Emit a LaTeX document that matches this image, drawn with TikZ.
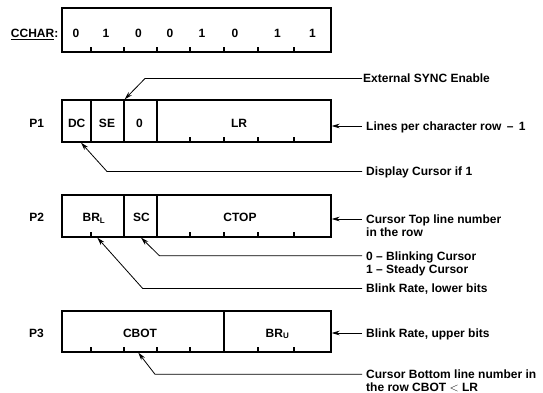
\documentclass[tikz,border=0pt]{standalone}
\usepackage{fontspec}
\setmainfont{Liberation Sans}
\usetikzlibrary{arrows.meta}
\begin{document}
\begin{tikzpicture}[x=1pt,y=-1pt,
  every node/.style={font=\fontsize{12}{13}\selectfont\bfseries},
  field/.style={draw, line width=1.3pt, inner sep=0pt, minimum height=42pt},
  lbl/.style={inner sep=0pt, text height=8.6pt, text depth=0pt},
  tickmark/.style={line width=1.1pt},
  conn/.style={line width=0.8pt, -{Stealth[length=8pt,width=4.6pt]}},
  desc/.style={anchor=west, inner xsep=4pt, inner ysep=0pt, text height=8.6pt, text depth=0pt},
  desctwo/.style={anchor=north west, inner xsep=4pt, inner ysep=0pt, align=left},
]
\path[use as bounding box, fill=white] (0,0) rectangle (543,393);

% ---------- CCHAR ----------
\node[lbl, anchor=east] (cclbl) at (58.5,33) {\underline{CCHAR}:};
\node[field, minimum width=269pt, minimum height=44pt] (cchar) at (196.5,30) {};
\foreach \x in {91,124,157,190,224,258,294}
  \draw[tickmark] (\x,52) -- (\x,47);
\foreach \x/\d [count=\i] in {76/0,106/1,138.5/0,170/0,202/1,235/0,277.5/1,312.5/1}
  \node[lbl] (b\i) at (\x,33) {\d};

% ---------- P1 ----------
\node[lbl] (p1) at (36.7,123) {P1};
\node[field, minimum width=29pt]  (dc) at (76.5,121) {};
\node[field, minimum width=33pt]  (se) at (107.5,121) {};
\node[field, minimum width=33pt]  (zr) at (140.5,121) {};
\node[field, minimum width=174pt] (lr) at (244,121) {};
\node[lbl] (dct) at (76.7,123) {DC};
\node[lbl] (set) at (107,123) {SE};
\node[lbl] (zrt) at (139.5,123) {0};
\node[lbl] (lrt) at (239,123) {LR};
\foreach \x in {190,224,258,294}
  \draw[tickmark] (\x,142) -- (\x,137);

% ---------- P2 ----------
\node[lbl] (p2) at (36.7,217.3) {P2};
\node[field, minimum width=62pt]  (brl) at (93,216) {};
\node[field, minimum width=33pt]  (sc) at (140.5,216) {};
\node[field, minimum width=174pt] (ctop) at (244,216) {};
\node[lbl] (brlt) at (94,217.3) {BR\textsubscript{L}};
\node[lbl] (sct) at (141.5,217.3) {SC};
\node[lbl] (ctopt) at (240,217.3) {CTOP};
\foreach \x in {91,190,224,258,294}
  \draw[tickmark] (\x,237) -- (\x,232);

% ---------- P3 ----------
\node[lbl] (p3) at (36.5,332.7) {P3};
\node[field, minimum width=162pt, minimum height=41pt] (cbot) at (143,331.5) {};
\node[field, minimum width=107pt, minimum height=41pt] (bru) at (277.5,331.5) {};
\node[lbl] (cbott) at (140,332.7) {CBOT};
\node[lbl] (brut) at (277.5,332.7) {BR\textsubscript{U}};
\foreach \x in {91,124,157,190,258,294}
  \draw[tickmark] (\x,352) -- (\x,347);

% ---------- descriptions ----------
\node[desc, inner xsep=1pt] (ext) at (362,78.5) {External SYNC Enable};
\node[desc] (lpr) at (362,126) {Lines per character row \,–\, 1};
\node[desc] (dcu) at (362,171.5) {Display Cursor if 1};
\node[desctwo] (ctd) at (362,214.7) {Cursor Top line number\\in the row};
\node[desctwo] (scd) at (362,251.5) {0 – Blinking Cursor\\1 – Steady Cursor};
\node[desc] (brld) at (362,288.5) {Blink Rate, lower bits};
\node[desc] (brud) at (362,333) {Blink Rate, upper bits};
\node[desctwo] (cbd) at (362,370) {Cursor Bottom line number in\\the row CBOT $<$ LR};

% ---------- connectors ----------
\draw[conn] (ext.west) -- (145,78.5) -- (se.north east);
\draw[conn] (lpr.west) -- (lr.east |- lpr.west);
\draw[conn] (dcu.west) -- (107,171.5) -- ([xshift=4.5pt]dc.south);
\draw[conn] ([yshift=-4.3pt]ctd.north west) -- (ctop.east |- 0,219);
\draw[conn] ([yshift=-4.3pt]scd.north west) -- (159.5,255.8) -- ([xshift=0.5pt]sc.south);
\draw[conn] (brld.west) -- (142.7,288.5) -- ([xshift=4.3pt]brl.south);
\draw[conn] (brud.west) -- (bru.east |- brud.west);
\draw[conn] ([yshift=-4.3pt]cbd.north west) -- (155,374.3) -- ([xshift=-4.7pt]cbot.south);
\end{tikzpicture}
\end{document}
